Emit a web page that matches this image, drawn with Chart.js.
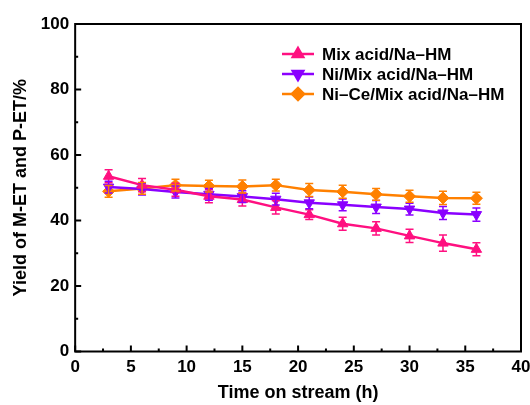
<!DOCTYPE html>
<html>
<head>
<meta charset="utf-8">
<script src="https://cdn.jsdelivr.net/npm/chart.js@4/dist/chart.umd.min.js"></script>
<style>
  html, body { margin: 0; padding: 0; background: #fff; }
  #wrap { width: 530px; height: 405px; }
</style>
</head>
<body>
<div id="wrap"><canvas id="chart"></canvas></div>
<script>
// data
const hours = [3, 6, 9, 12, 15, 18, 21, 24, 27, 30, 33, 36];
const mixAcid = [53.5, 50.8, 49.4, 47.4, 46.4, 44.0, 41.8, 39.0, 37.6, 35.3, 33.1, 31.2];
const mixAcidErr = [2, 2, 2, 2, 2, 2, 1.5, 2, 2, 2, 2.5, 2];
const niMix = [50.2, 49.6, 48.7, 48.0, 47.3, 46.5, 45.4, 44.8, 44.1, 43.5, 42.3, 41.8];
const niMixErr = [1.8, 1.8, 1.8, 1.8, 1.8, 1.8, 1.8, 1.8, 2, 1.8, 2, 2];
const niCeMix = [48.9, 49.8, 50.8, 50.5, 50.4, 50.8, 49.3, 48.8, 48.0, 47.4, 46.9, 46.8];
const niCeErr = [1.8, 1.8, 1.8, 1.8, 2, 1.8, 2, 2, 1.8, 1.8, 2, 1.8];

const seriesNames = ["Mix acid/Na\u2013HM", "Ni/Mix acid/Na\u2013HM", "Ni\u2013Ce/Mix acid/Na\u2013HM"];
const colors = ["#ff1080", "#8a00ff", "#ff8000"];

const FONT = "'Liberation Sans', Arial, sans-serif";

function pts(ys) { return hours.map((h, i) => ({ x: h, y: ys[i] })); }

// error bars, box, inward ticks and legend
const extras = {
    id: "extras",
    afterDatasetsDraw(chart) {
        const c = chart.ctx;
        const ys = chart.scales.y;
        const errs = [mixAcidErr, niMixErr, niCeErr];
        chart.data.datasets.forEach((ds, di) => {
            const meta = chart.getDatasetMeta(di);
            c.save();
            c.strokeStyle = colors[di];
            c.lineWidth = 1.5;
            meta.data.forEach((p, i) => {
                const v = ds.data[i].y;
                const t = ys.getPixelForValue(v + errs[di][i]);
                const b = ys.getPixelForValue(v - errs[di][i]);
                c.beginPath();
                c.moveTo(p.x, t); c.lineTo(p.x, b);
                c.moveTo(p.x - 4, t); c.lineTo(p.x + 4, t);
                c.moveTo(p.x - 4, b); c.lineTo(p.x + 4, b);
                c.stroke();
            });
            c.restore();
        });
    },
    afterDraw(chart) {
        const c = chart.ctx;
        const a = chart.chartArea;
        const xs = chart.scales.x, ys = chart.scales.y;
        c.save();
        c.strokeStyle = "#000";
        c.lineWidth = 2;
        c.strokeRect(a.left, a.top, a.right - a.left, a.bottom - a.top);
        c.beginPath();
        for (let v = 0; v <= 40; v += 2.5) {
            const x = xs.getPixelForValue(v);
            const len = (v % 5 === 0) ? 6 : 3;
            c.moveTo(x, a.bottom); c.lineTo(x, a.bottom - len);
        }
        for (let v = 0; v <= 100; v += 10) {
            const y = ys.getPixelForValue(v);
            const len = (v % 20 === 0) ? 6 : 3;
            c.moveTo(a.left, y); c.lineTo(a.left + len, y);
        }
        c.stroke();

        // legend
        c.font = "bold 17px " + FONT;
        c.textBaseline = "middle";
        const lx = 282, ly = 54, gap = 20;
        chart.data.datasets.forEach((ds, i) => {
            const y = ly + i * gap;
            c.strokeStyle = colors[i];
            c.fillStyle = colors[i];
            c.lineWidth = 2.5;
            c.beginPath();
            c.moveTo(lx, y); c.lineTo(lx + 32, y);
            c.stroke();
            Chart.helpers.drawPoint(c, {
                pointStyle: ds.pointStyle,
                rotation: ds.rotation || 0,
                radius: 6,
                borderWidth: 1
            }, lx + 16, y);
            c.fillStyle = "#000";
            c.fillText(ds.label, lx + 40, y + 1);
        });
        c.restore();
    }
};

new Chart(document.getElementById("chart"), {
    type: "line",
    data: {
        datasets: [
            { label: seriesNames[0], data: pts(mixAcid), pointStyle: "triangle", rotation: 0 },
            { label: seriesNames[1], data: pts(niMix), pointStyle: "triangle", rotation: 180 },
            { label: seriesNames[2], data: pts(niCeMix), pointStyle: "rectRot", rotation: 0 }
        ].map((d, i) => Object.assign(d, {
            borderColor: colors[i],
            backgroundColor: colors[i],
            pointBackgroundColor: colors[i],
            pointBorderColor: colors[i],
            borderWidth: 2.5,
            pointRadius: 6,
            pointBorderWidth: 1,
            tension: 0,
            fill: false
        }))
    },
    options: {
        responsive: true,
        maintainAspectRatio: false,
        animation: false,
        layout: { padding: { top: 24, right: 0, left: 7, bottom: 0 } },
        plugins: { legend: { display: false }, tooltip: { enabled: false } },
        scales: {
            x: {
                type: "linear", min: 0, max: 40,
                afterFit(scale) { scale.paddingRight = 9; },
                ticks: { stepSize: 5, color: "#000", padding: 6, font: { family: FONT, size: 17, weight: "bold", lineHeight: 1.1 } },
                grid: { display: false, drawTicks: false },
                border: { display: false },
                title: { display: true, text: "Time on stream (h)", color: "#000", padding: { top: 1, bottom: 2 }, font: { family: FONT, size: 18, weight: "bold", lineHeight: 1.1 } }
            },
            y: {
                min: 0, max: 100,
                ticks: { stepSize: 20, color: "#000", padding: 6, font: { family: FONT, size: 17, weight: "bold" } },
                grid: { display: false, drawTicks: false },
                border: { display: false },
                title: { display: true, text: "Yield of M-ET and P-ET/%", color: "#000", padding: { bottom: 4 }, font: { family: FONT, size: 18, weight: "bold", lineHeight: 1.1 } }
            }
        }
    },
    plugins: [extras]
});
</script>
</body>
</html>
